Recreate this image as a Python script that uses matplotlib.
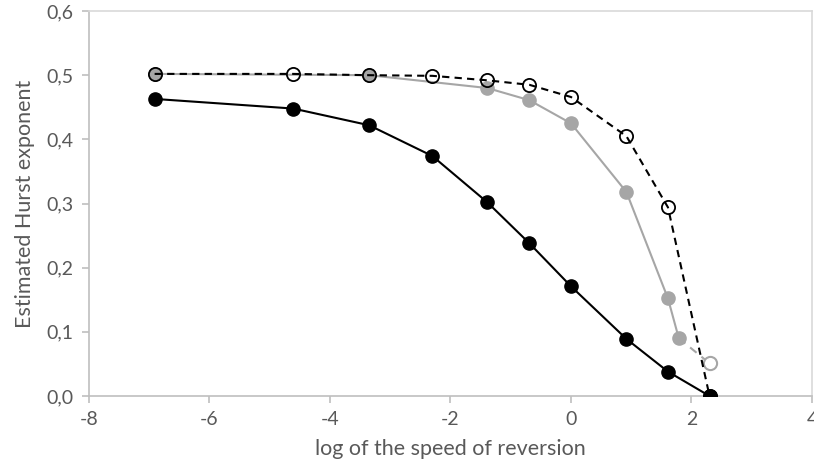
import numpy as np
import matplotlib.pyplot as plt

plt.rcParams['font.family'] = ['Lato', 'DejaVu Sans']

# log of the reversion speeds
x_all = [-6.91, -4.61, -3.35, -2.30, -1.39, -0.69, 0.0, 0.92, 1.61, 2.30]

# black filled series
h_black = [0.463, 0.448, 0.422, 0.374, 0.302, 0.238, 0.171, 0.089, 0.038, 0.0]

# gray filled series
x_gray = [-6.91, -3.35, -1.39, -0.69, 0.0, 0.92, 1.61, 1.79]
h_gray = [0.502, 0.500, 0.480, 0.461, 0.425, 0.318, 0.152, 0.090]
x_gray_end = [1.79, 2.30]
h_gray_end = [0.090, 0.051]

# dashed open-circle series
h_open = [0.502, 0.502, 0.500, 0.499, 0.492, 0.485, 0.466, 0.405, 0.294, 0.0]

xticks = [-8, -6, -4, -2, 0, 2, 4]
yticks = [0.0, 0.1, 0.2, 0.3, 0.4, 0.5, 0.6]

axis_col = '#bfbfbf'
text_col = '#595959'

fig = plt.figure(figsize=(8.14, 4.71), dpi=100)
ax = fig.add_axes([0.1093, 0.1592, 0.8882, 0.8174])

ax.plot(x_gray, h_gray, color='#a6a6a6', lw=1.5, marker='o', ms=9.5,
        mfc='#a6a6a6', mec='#a6a6a6', zorder=3)
ax.plot(x_gray_end, h_gray_end, color='#a6a6a6', lw=1.5, ls=(0, (4, 3)), zorder=2)
ax.plot(x_gray_end[1:], h_gray_end[1:], ls='none', marker='o', ms=9.5,
        mfc='white', mec='#a6a6a6', mew=1.5, zorder=3)
ax.plot(x_all, h_open, color='black', lw=1.5, ls=(0, (3.5, 2.5)), marker='o', ms=9.5,
        fillstyle='none', mec='black', mew=1.3, zorder=4)
ax.plot(x_all, h_black, color='black', lw=1.5, marker='o', ms=9.5,
        mfc='black', mec='black', zorder=5)

ax.set_xlim(-8, 4)
ax.set_ylim(0, 0.6)
ax.set_xticks(xticks)
ax.set_yticks(yticks)
ax.set_xticklabels([str(t) for t in xticks])
ax.set_yticklabels([f'{t:.1f}'.replace('.', ',') for t in yticks])

for s in ax.spines.values():
    s.set_color(axis_col)
    s.set_linewidth(1.2)
ax.spines['top'].set_color('#d9d9d9')
ax.spines['right'].set_color('#d9d9d9')
ax.tick_params(axis='both', direction='out', length=5, width=1.2, color=axis_col,
               labelcolor=text_col, labelsize=14, pad=6)

ax.set_xlabel('log of the speed of reversion', fontsize=15.5, color=text_col, labelpad=8)
ax.set_ylabel('Estimated Hurst exponent', fontsize=15.5, color=text_col, labelpad=8)

fig.savefig('out.png', dpi=100)
